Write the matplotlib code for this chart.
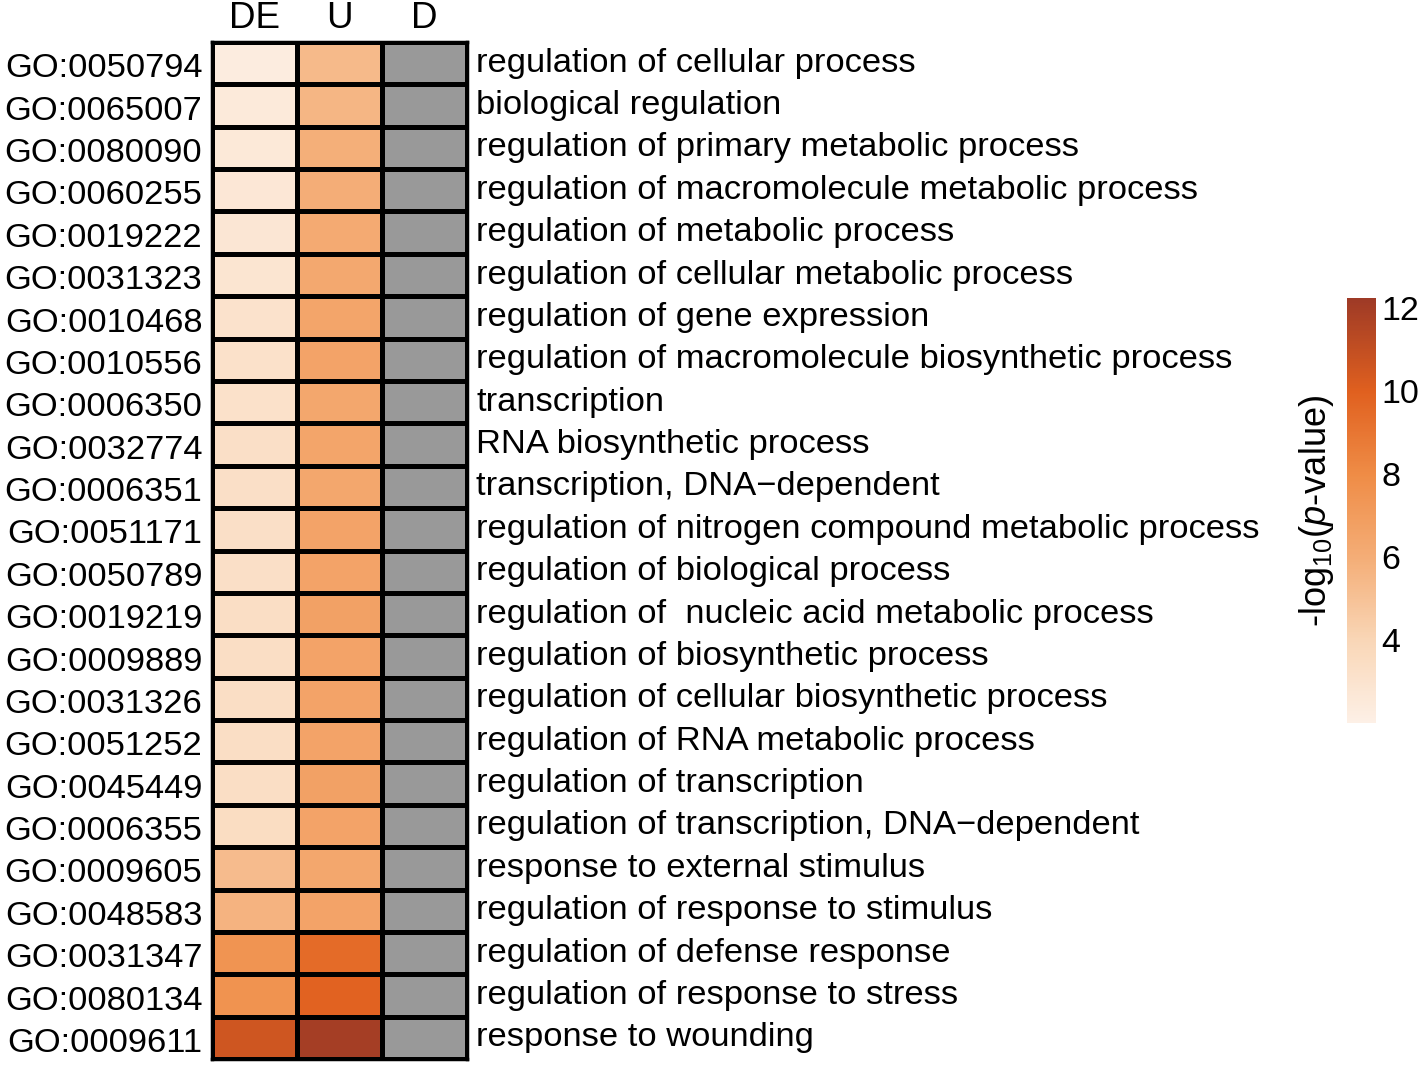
import matplotlib
matplotlib.use('Agg')
import matplotlib.pyplot as plt
import numpy as np
from matplotlib.colors import LinearSegmentedColormap

plt.rcParams['font.family'] = ['Liberation Sans', 'DejaVu Sans']
plt.rcParams['mathtext.fontset'] = 'custom'
plt.rcParams['mathtext.rm'] = 'Liberation Sans'
plt.rcParams['mathtext.it'] = 'Liberation Sans:italic'

# GO terms, top to bottom
go_ids = ['GO:0050794', 'GO:0065007', 'GO:0080090', 'GO:0060255', 'GO:0019222',
          'GO:0031323', 'GO:0010468', 'GO:0010556', 'GO:0006350', 'GO:0032774',
          'GO:0006351', 'GO:0051171', 'GO:0050789', 'GO:0019219', 'GO:0009889',
          'GO:0031326', 'GO:0051252', 'GO:0045449', 'GO:0006355', 'GO:0009605',
          'GO:0048583', 'GO:0031347', 'GO:0080134', 'GO:0009611']
terms = ['regulation of cellular process',
         'biological regulation',
         'regulation of primary metabolic process',
         'regulation of macromolecule metabolic process',
         'regulation of metabolic process',
         'regulation of cellular metabolic process',
         'regulation of gene expression',
         'regulation of macromolecule biosynthetic process',
         'transcription',
         'RNA biosynthetic process',
         'transcription, DNA\u2212dependent',
         'regulation of nitrogen compound metabolic process',
         'regulation of biological process',
         'regulation of  nucleic acid metabolic process',
         'regulation of biosynthetic process',
         'regulation of cellular biosynthetic process',
         'regulation of RNA metabolic process',
         'regulation of transcription',
         'regulation of transcription, DNA\u2212dependent',
         'response to external stimulus',
         'regulation of response to stimulus',
         'regulation of defense response',
         'regulation of response to stress',
         'response to wounding']
columns = ['DE', 'U', 'D']

# -log10(p-value)
de_vals = [2.3, 2.5, 2.6, 2.7, 2.8, 2.9, 3.1, 3.2, 3.2, 3.3, 3.3, 3.3,
           3.3, 3.4, 3.4, 3.4, 3.4, 3.4, 3.5, 5.3, 5.7, 7.5, 7.6, 10.6]
u_vals = [5.4, 5.6, 5.9, 6.0, 6.2, 6.3, 6.5, 6.6, 6.4, 6.5, 6.4, 6.6,
          6.6, 6.7, 6.6, 6.6, 6.6, 6.7, 6.6, 6.4, 6.6, 9.5, 9.9, 12.0]
d_vals = [np.nan] * 24

vmin, vmax = 2.0, 12.25
nodes = [(2.0, '#fdf0e6'), (4.0, '#f9d6b6'), (6.0, '#f4ad76'),
         (8.0, '#ef8c46'), (10.0, '#e0601f'), (12.25, '#9e3a26')]
cmap = LinearSegmentedColormap.from_list(
    'pv', [((v - vmin) / (vmax - vmin), c) for v, c in nodes])
cmap.set_bad('#999999')

data = np.ma.masked_invalid(np.array([de_vals, u_vals, d_vals]).T)

fig = plt.figure(figsize=(14.18, 10.68), dpi=100)
ax = fig.add_axes([0.1495, 0.0084, 0.1798, 0.9523])
mesh = ax.pcolormesh(data, cmap=cmap, vmin=vmin, vmax=vmax,
                     edgecolors='black', linewidth=2.2)
ax.set_xlim(0, 3)
ax.set_ylim(len(go_ids), 0)
for s in ax.spines.values():
    s.set_linewidth(2.5)
ax.tick_params(length=0, labelsize=24.8, pad=7)
ax.set_yticks(np.arange(len(go_ids)) + 0.55)
ax.set_yticklabels(go_ids)
ax.set_xticks(np.arange(3) + 0.5)
ax.set_xticklabels(columns)
ax.xaxis.tick_top()
ax.tick_params(axis='x', pad=4, labelsize=26.5)

# term descriptions on the right side
for i, t in enumerate(terms):
    ax.text(3.11, i + 0.5, t, fontsize=24.8, va='center', ha='left')

cax = fig.add_axes([0.950, 0.323, 0.0205, 0.398])
cb = fig.colorbar(mesh, cax=cax, ticks=[4, 6, 8, 10, 12])
cb.outline.set_visible(False)
cax.tick_params(length=0, labelsize=24.5, pad=4)
cax.yaxis.set_label_position('left')
cb.set_label(r'-log$_{10}$($p$-value)', fontsize=26, labelpad=8)

fig.savefig('out.png', dpi=100)
